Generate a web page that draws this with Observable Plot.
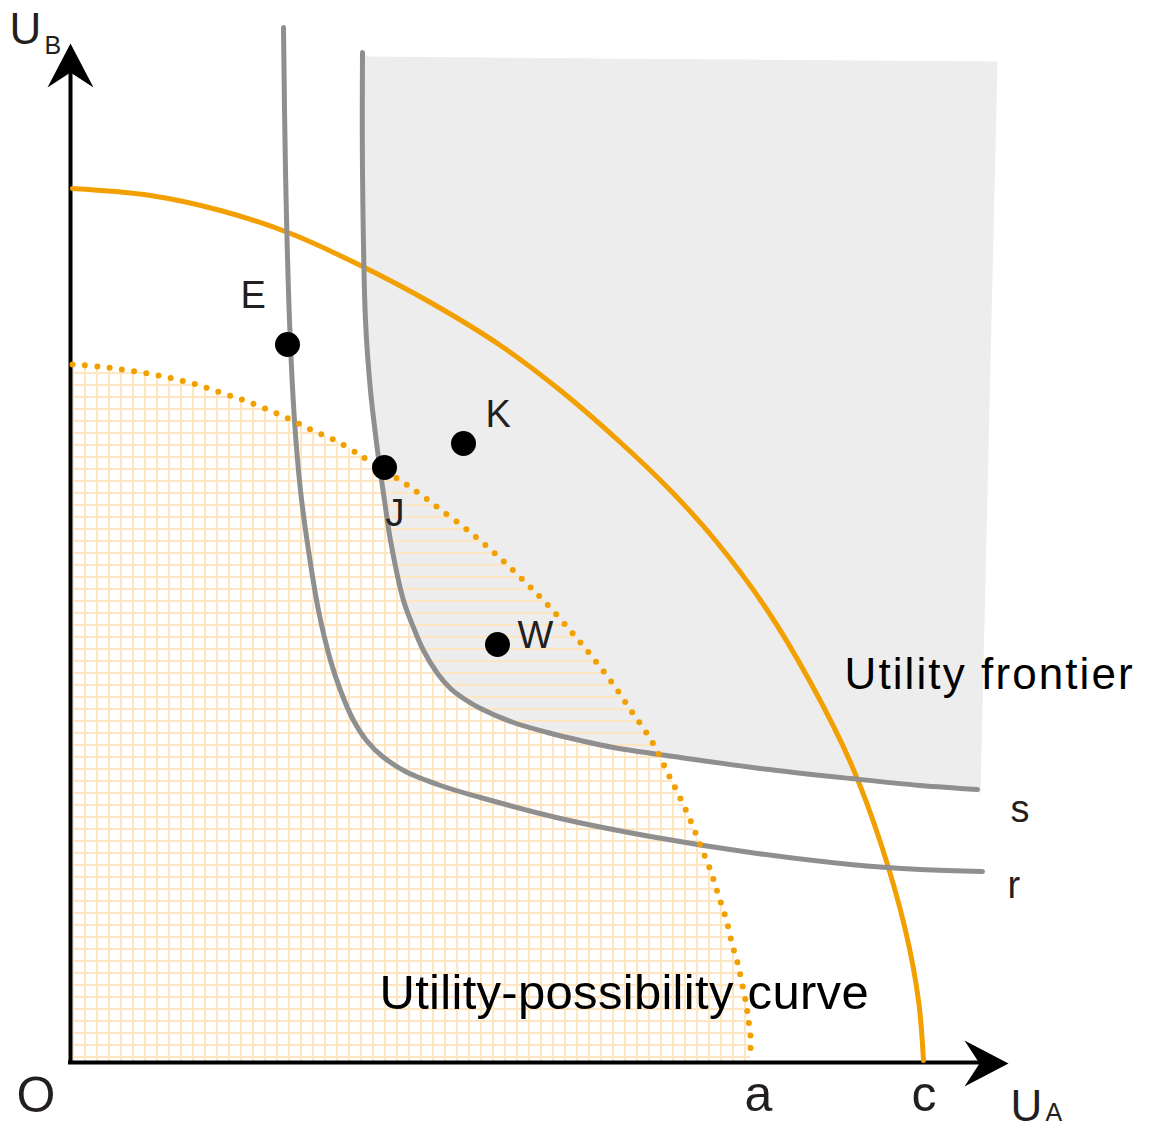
<!DOCTYPE html>
<html>
<head>
<meta charset="utf-8">
<script src="https://cdn.jsdelivr.net/npm/d3@7"></script>
<script src="https://cdn.jsdelivr.net/npm/@observablehq/plot@0.6"></script>
<style>
  html, body { margin: 0; padding: 0; background: #fff; }
  #chart svg { display: block; }
</style>
</head>
<body>
<div id="chart"></div>
<script>
// Utility units measured from the origin O (UA to the right, UB upward)
const utilityFrontier = [
  [3,874],[81,867],[151,852],[221,829],[291,797],[361,760],[431,717],[491,672],
  [551,620],[601,572],[646,522],[696,455],[741,380],[781,300],[811,220],[836,132],
  [849,62],[854,2]
];
const possibilityCurve = [
  [3,698],[29,696],[53,693],[78,689],[103,684],[127,678],[151,670],[175,662],
  [198,653],[221,643],[243,632],[266,622],[288,609],[299,602],[331,582],[351,568],
  [371,553],[401,530],[431,504],[456,480],[474,462],[499,434],[515,415],[531,395],
  [546,375],[560,354],[574,334],[587,313],[598,290],[609,268],[621,242],[631,217],
  [641,192],[649,167],[657,142],[663,117],[668,100],[673,77],[677,57],[679,42],
  [681,27],[681,12]
];
const indifferenceR = [
  [214,1035],[216,892],[220,742],[225,642],[231,572],[239,512],[249,452],[261,402],
  [271,372],[283,344],[297,322],[313,306],[336,291],[371,277],[411,265],[491,244],
  [581,226],[681,210],[781,198],[851,193],[913,191]
];
const indifferenceS = [
  [293,1010],[293,892],[296,742],[301,672],[308,612],[315,562],[321,522],[334,462],
  [344,435],[354,412],[368,389],[381,374],[394,364],[411,354],[444,340],[478,330],
  [511,322],[544,315],[611,305],[691,294],[781,284],[851,277],[908,273]
];
// corners of the shaded region beyond curve s
const shadedCorners = [[296,1006],[928,1001],[911,268]];
// allocation points
const pointNames = ["E", "J", "K", "W"];
const pointValues = [[218,718],[315,595],[394,619],[428,418]];
const pointLabelPos = [[171,755],[316,537],[416,636],[448,415]];
// curve names
const curveNames = ["s", "r"];
const curveLabelPos = [[941,241],[938,165]];
// axis ends
const axisYEnd = 995, axisXEnd = 915;
const arrowTips = [{x: 1, y: 1019, rot: 0}, {x: 939, y: -1, rot: 90}];
// axis labels
const axisMainLabels = [{t: "U", x: -60, y: 1019}, {t: "U", x: 941, y: -58}];
const axisSubLabels = [{t: "B", x: -25, y: 1009}, {t: "A", x: 976, y: -58}];
const originLabel = [{t: "O", x: -53, y: -49}];
const tickLabels = [{t: "a", x: 675, y: -48}, {t: "c", x: 842, y: -48}];
const regionLabels = [
  {t: "Utility frontier", x: 775, y: 374, size: 44},
  {t: "Utility-possibility curve", x: 310, y: 54, size: 49}
];

const pts = pointNames.map((n, i) => ({name: n, x: pointValues[i][0], y: pointValues[i][1], lx: pointLabelPos[i][0], ly: pointLabelPos[i][1]}));
const curveLbl = curveNames.map((n, i) => ({name: n, x: curveLabelPos[i][0], y: curveLabelPos[i][1]}));
const shadedPolygon = shadedCorners.concat(indifferenceS.slice().reverse());

const arrowHead = {
  draw(ctx) {
    ctx.moveTo(0, 0);
    ctx.lineTo(23, 44);
    ctx.lineTo(0, 29);
    ctx.lineTo(-23, 44);
    ctx.closePath();
  }
};

const ORANGE = "#f29f00";
const GRAY = "#8f8f8f";
const INK = "#231f20";
const FONT = "'Liberation Sans', Arial, Helvetica, sans-serif";

const X = d => d[0], Y = d => d[1];

const chart = Plot.plot({
  width: 1152,
  height: 1130,
  marginLeft: 69,
  marginRight: 0,
  marginTop: 0,
  marginBottom: 68,
  x: {domain: [0, 1083], axis: null},
  y: {domain: [0, 1062], axis: null},
  style: {background: "white", overflow: "visible", fontFamily: FONT},
  marks: [
    Plot.areaY(possibilityCurve, {x: X, y1: 0, y2: Y, fill: "url(#gridHatch)", curve: "catmull-rom"}),
    Plot.line(shadedPolygon, {x: X, y: Y, fill: "#ededed", stroke: "none", curve: "linear"}),
    Plot.areaY(possibilityCurve, {x: X, y1: 0, y2: Y, fill: "url(#rowHatch)", curve: "catmull-rom"}),
    Plot.ruleX([1], {y1: 0, y2: axisYEnd, stroke: "black", strokeWidth: 4}),
    Plot.ruleY([0], {x1: -1, x2: axisXEnd, stroke: "black", strokeWidth: 4}),
    Plot.line(utilityFrontier, {x: X, y: Y, stroke: ORANGE, strokeWidth: 5, curve: "catmull-rom"}),
    Plot.line(indifferenceR, {x: X, y: Y, stroke: GRAY, strokeWidth: 5, curve: "catmull-rom"}),
    Plot.line(indifferenceS, {x: X, y: Y, stroke: GRAY, strokeWidth: 5, curve: "catmull-rom"}),
    Plot.line(possibilityCurve, {x: X, y: Y, stroke: ORANGE, strokeWidth: 6, strokeLinecap: "round", strokeDasharray: "0 12.4", curve: "catmull-rom"}),
    Plot.dot(pts, {x: "x", y: "y", r: 12.5, fill: "black", stroke: "none"}),
    Plot.dot(arrowTips, {x: "x", y: "y", symbol: arrowHead, rotate: "rot", fill: "black", stroke: "none", r: 10}),
    Plot.text(pts, {x: "lx", y: "ly", text: "name", fontSize: 38, fill: INK, textAnchor: "start", lineAnchor: "bottom"}),
    Plot.text(curveLbl, {x: "x", y: "y", text: "name", fontSize: 38, fill: INK, textAnchor: "start", lineAnchor: "bottom"}),
    Plot.text(axisMainLabels, {x: "x", y: "y", text: "t", fontSize: 44, fill: INK, textAnchor: "start", lineAnchor: "bottom"}),
    Plot.text(axisSubLabels, {x: "x", y: "y", text: "t", fontSize: 25, fill: INK, textAnchor: "start", lineAnchor: "bottom"}),
    Plot.text(originLabel, {x: "x", y: "y", text: "t", fontSize: 50, fill: INK, textAnchor: "start", lineAnchor: "bottom"}),
    Plot.text(tickLabels, {x: "x", y: "y", text: "t", fontSize: 50, fill: INK, textAnchor: "start", lineAnchor: "bottom"}),
    Plot.text(regionLabels, {x: "x", y: "y", text: "t", fontSize: d => d.size, fill: "black", textAnchor: "start", lineAnchor: "bottom"})
  ]
});

// hatch patterns
const defs = d3.select(chart).insert("defs", ":first-child");
const grid = defs.append("pattern").attr("id", "gridHatch").attr("patternUnits", "userSpaceOnUse")
  .attr("x", 0).attr("y", 0).attr("width", 12).attr("height", 12);
grid.append("rect").attr("width", 12).attr("height", 12).attr("fill", "white");
grid.append("path").attr("d", "M0 1H12M1 0V12").attr("stroke", "#fde6c1").attr("stroke-width", 2).attr("fill", "none");
const rows = defs.append("pattern").attr("id", "rowHatch").attr("patternUnits", "userSpaceOnUse")
  .attr("x", 0).attr("y", 0).attr("width", 12).attr("height", 12);
rows.append("path").attr("d", "M0 1H12").attr("stroke", "#fde6c1").attr("stroke-width", 2).attr("fill", "none");

// letter spacing of the region labels
d3.select(chart).selectAll("text").filter(function() { return this.textContent === "Utility frontier"; })
  .attr("letter-spacing", 2.1);
d3.select(chart).selectAll("text").filter(function() { return this.textContent === "Utility-possibility curve"; })
  .attr("letter-spacing", 0.3);

document.getElementById("chart").appendChild(chart);
</script>
</body>
</html>
